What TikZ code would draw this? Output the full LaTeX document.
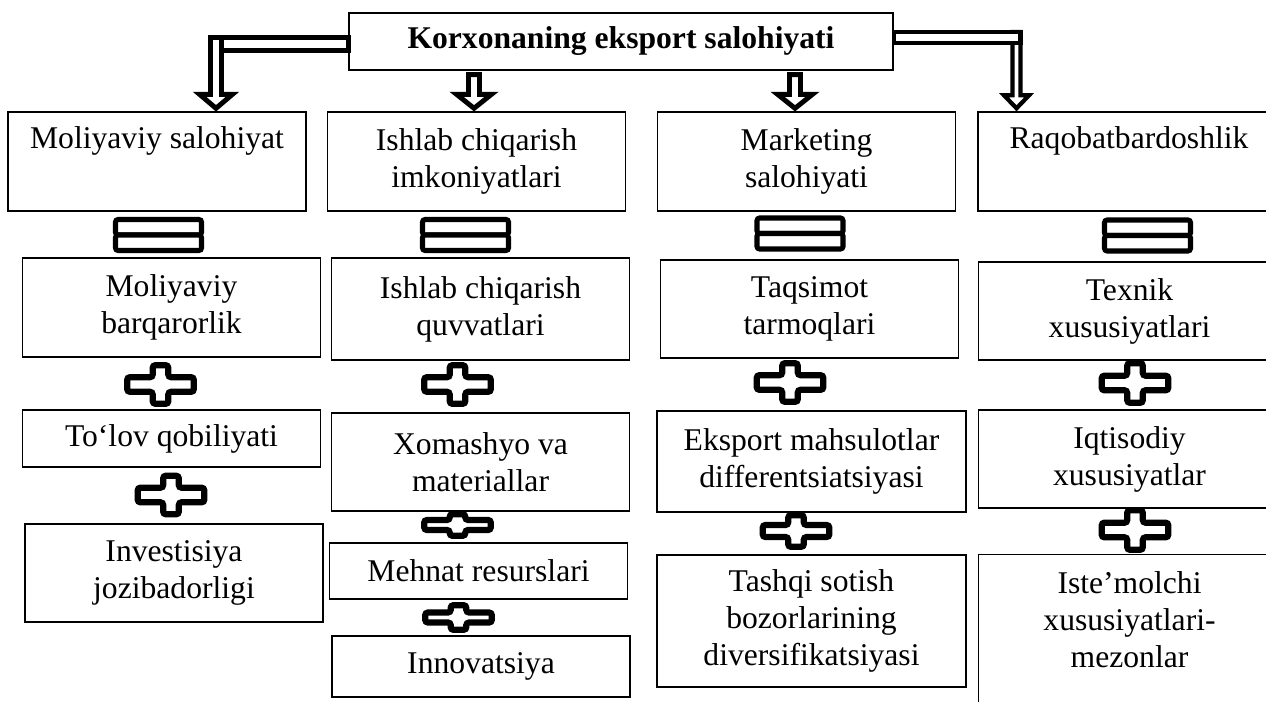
\documentclass[tikz,border=0pt]{standalone}
\usepackage{fontspec}
\setmainfont{Liberation Serif}
\usetikzlibrary{calc}

\tikzset{
  box/.style={draw, line width=0.8pt, align=center, inner sep=2pt,
    minimum width=5.96cm, font=\fontsize{18}{21}\selectfont},
  hollow/.style={draw, line width=2.8pt, fill=white, line join=miter},
  markline/.style={draw, line width=2.9pt, fill=white, rounded corners=1.5pt},
  pics/eqmark/.style={code={
    \draw[markline] (-43,-15.5) rectangle (43,0);
    \draw[markline] (-43,0) rectangle (43,15.5);
  }},
  pics/plusmark/.style n args={2}{code={
    \draw[markline, line width=3.5pt] (-7.8,-#1) -- (7.8,-#1) -- (7.8,-#2) -- (33.3,-#2)
      -- (33.3,#2) -- (7.8,#2) -- (7.8,#1) -- (-7.8,#1) -- (-7.8,#2)
      -- (-33.3,#2) -- (-33.3,-#2) -- (-7.8,-#2) -- cycle;
  }},
}

\begin{document}
\begin{tikzpicture}[x=0.02cm, y=-0.02cm]
        \useasboundingbox (0,0) rectangle (1266,702);

        % top box
        \node[box, font=\fontsize{18}{21}\selectfont\bfseries, minimum width=10.88cm, minimum height=1.14cm] (t) at (621,41.5) {Korxonaning eksport salohiyati};

        % first row
        \node[box, minimum height=1.98cm] (b1) at (157,161.5) {Moliyaviy salohiyat\\ \strut};
        \node[box, minimum height=1.98cm] (b2) at (476.5,161.5) {Ishlab chiqarish\\imkoniyatlari};
        \node[box, minimum height=1.98cm] (b3) at (806.5,161.5) {Marketing\\salohiyati};
        \node[box, minimum height=1.98cm, minimum width=6.04cm] (b4) at (1129,161.5) {Raqobatbardoshlik\\ \strut};

        % moliyaviy
        \node[box, minimum height=1.98cm] (m2) at (171.5,307.5) {Moliyaviy\\barqarorlik};
        \node[box, minimum height=1.14cm] (m3) at (171.5,438.5) {To‘lov qobiliyati};
        \node[box, minimum height=1.96cm] (m4) at (174,573) {Investisiya\\jozibadorligi};

        % ishlab chiqarish
        \node[box, minimum height=2.04cm] (i2) at (480.5,309) {Ishlab chiqarish\\quvvatlari};
        \node[box, minimum height=1.96cm] (i3) at (480.5,462) {Xomashyo va\\materiallar};
        \node[box, minimum height=1.12cm] (i4) at (478.5,571) {Mehnat resurslari};
        \node[box, minimum height=1.22cm] (i5) at (481,666.5) {Innovatsiya};

        % marketing
        \node[box, minimum height=1.96cm] (k2) at (809.5,309) {Taqsimot\\tarmoqlari};
        \node[box, minimum height=2.02cm, minimum width=6.18cm] (k3) at (811.5,461.5) {Eksport mahsulotlar\\differentsiatsiyasi};
        \node[box, minimum height=2.64cm, minimum width=6.18cm] (k4) at (811.5,621) {Tashqi sotish\\bozorlarining\\diversifikatsiyasi};

        % raqobatbardoshlik
        \node[box, minimum height=1.96cm, minimum width=6.04cm] (r2) at (1129.5,311) {Texnik\\xususiyatlari};
        \node[box, minimum height=1.96cm, minimum width=6.04cm] (r3) at (1129.5,459) {Iqtisodiy\\xususiyatlar};
        \node[box, minimum height=4.2cm, minimum width=6.04cm, anchor=north] (r4) at (1129.5,554) {};
        \node[anchor=north, align=center, inner sep=0pt, font=\fontsize{18}{21}\selectfont] (r4txt) at ($(r4.north)+(0,17)$) {Iste’molchi\\xususiyatlari-\\mezonlar};

        % arrows from the top box
        \coordinate (c1) at ($(b1.north)+(59,-3)$);
        \draw[hollow] ($(c1 |- t.west)+(5.5,-4)$) rectangle ($(t.west)+(0,9)$);
        \draw[hollow] ($(c1 |- t.west)+(-5.5,-4)$) -- ($(c1)+(-5.5,-14)$) -- ($(c1)+(-16.5,-14)$) -- (c1)
          -- ($(c1)+(16.5,-14)$) -- ($(c1)+(5.5,-14)$) -- ($(c1 |- t.west)+(5.5,-4)$) -- cycle;

        \coordinate (c2) at ($(b2.north)+(-2.5,-3)$);
        \draw[hollow] ($(c2 |- t.south)+(-5.5,4)$) -- ($(c2)+(-5.5,-14)$) -- ($(c2)+(-17.5,-14)$) -- (c2)
          -- ($(c2)+(17.5,-14)$) -- ($(c2)+(5.5,-14)$) -- ($(c2 |- t.south)+(5.5,4)$) -- cycle;

        \coordinate (c3) at ($(b3.north)+(-11.5,-3)$);
        \draw[hollow] ($(c3 |- t.south)+(-5.5,4)$) -- ($(c3)+(-5.5,-14)$) -- ($(c3)+(-17.5,-14)$) -- (c3)
          -- ($(c3)+(17.5,-14)$) -- ($(c3)+(5.5,-14)$) -- ($(c3 |- t.south)+(5.5,4)$) -- cycle;

        \coordinate (c4) at ($(b4.north)+(-112.5,-3)$);
        \draw[hollow, line width=2.4pt] ($(c4 |- t.east)+(-4,-9.5)$) -- ($(c4)+(-4,-13)$) -- ($(c4)+(-12.5,-13)$) -- (c4)
          -- ($(c4)+(12.5,-13)$) -- ($(c4)+(4,-13)$) -- ($(c4 |- t.east)+(4,-9.5)$) -- cycle;
        \draw[hollow, line width=2.4pt] ($(t.east)+(0,-9.5)$) rectangle ($(c4 |- t.east)+(4,1.5)$);

        % equal signs
        \pic at (158.5,235) {eqmark};
        \pic at (465.5,235) {eqmark};
        \pic at (800,233.5) {eqmark};
        \pic at (1147.5,235.5) {eqmark};

        % plus signs
        \pic at (160.5,384.5) {plusmark={19.3}{7.3}};
        \pic at (171,495) {plusmark={19.3}{7.3}};
        \pic at (457.5,384.5) {plusmark={19.3}{7.3}};
        \pic at (457.5,525) {plusmark={10.8}{5}};
        \pic at (458.5,617.5) {plusmark={12.3}{5}};
        \pic at (790,382.5) {plusmark={19.3}{7.3}};
        \pic at (796,531) {plusmark={15.8}{6}};
        \pic at (1135,383) {plusmark={19.8}{7.3}};
        \pic at (1135,530) {plusmark={19.8}{7.3}};
      \end{tikzpicture}
\end{document}
